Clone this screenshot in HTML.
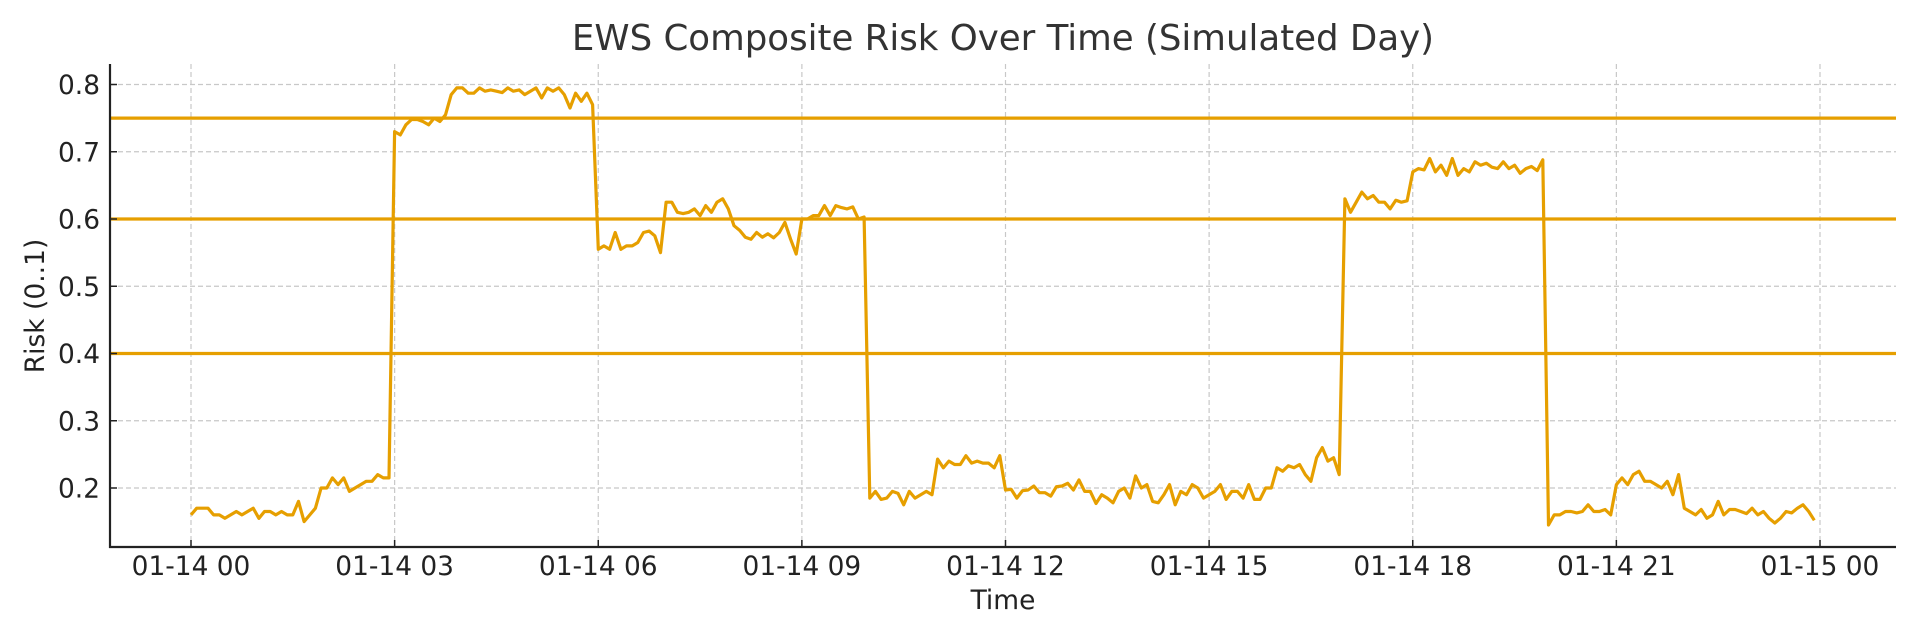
<!DOCTYPE html>
<html><head><meta charset="utf-8"><style>
html,body{margin:0;padding:0;background:#fff;}
svg{display:block;font-family:"DejaVu Sans","Liberation Sans",sans-serif;}
</style></head><body>
<svg id="chart" width="1920" height="640" viewBox="0 0 1920 640" xmlns="http://www.w3.org/2000/svg">
<rect width="1920" height="640" fill="#fff"/>
<text x="1003" y="50" text-anchor="middle" font-size="35.6" fill="#333">EWS Composite Risk Over Time (Simulated Day)</text>
<g id="grid"></g>
<g id="thresholds"></g>
<g id="series"></g>
<g id="axes"></g>
<text x="1003" y="609" text-anchor="middle" font-size="26.5" fill="#222">Time</text>
<text x="0" y="0" transform="translate(44,306) rotate(-90)" text-anchor="middle" font-size="26.5" fill="#222">Risk (0..1)</text>
</svg>
<script>
const xTickLabels = ["01-14 00","01-14 03","01-14 06","01-14 09","01-14 12","01-14 15","01-14 18","01-14 21","01-15 00"];
const yTicks = [0.2,0.3,0.4,0.5,0.6,0.7,0.8];
const yTickLabels = ["0.2","0.3","0.4","0.5","0.6","0.7","0.8"];
const thresholds = [0.4,0.6,0.75];
const intervalMinutes = 5;
const riskValues = [
0.16,0.17,0.17,0.17,0.16,0.16,0.155,0.16,0.165,0.16,0.165,0.17,
0.155,0.165,0.165,0.16,0.165,0.16,0.16,0.18,0.15,0.16,0.17,0.2,
0.2,0.215,0.205,0.215,0.195,0.2,0.205,0.21,0.21,0.22,0.215,0.215,
0.73,0.725,0.74,0.748,0.748,0.745,0.74,0.75,0.745,0.755,0.785,0.795,
0.795,0.787,0.787,0.795,0.79,0.792,0.79,0.788,0.795,0.79,0.792,0.785,
0.79,0.795,0.78,0.795,0.79,0.795,0.785,0.765,0.787,0.775,0.787,0.77,
0.555,0.56,0.555,0.58,0.555,0.56,0.56,0.565,0.58,0.582,0.575,0.55,
0.625,0.625,0.61,0.608,0.61,0.615,0.605,0.62,0.61,0.625,0.63,0.615,
0.59,0.583,0.573,0.57,0.58,0.573,0.578,0.572,0.58,0.595,0.57,0.548,
0.6,0.6,0.605,0.605,0.62,0.605,0.62,0.617,0.615,0.618,0.6,0.603,
0.185,0.195,0.183,0.185,0.195,0.192,0.175,0.195,0.185,0.19,0.195,0.19,
0.243,0.23,0.24,0.235,0.235,0.248,0.237,0.24,0.237,0.237,0.23,0.248,
0.197,0.198,0.185,0.196,0.197,0.203,0.193,0.193,0.188,0.202,0.203,0.207,
0.197,0.212,0.195,0.195,0.177,0.19,0.185,0.178,0.195,0.2,0.185,0.218,
0.2,0.205,0.18,0.178,0.19,0.205,0.175,0.195,0.19,0.205,0.2,0.185,
0.19,0.195,0.205,0.183,0.195,0.195,0.185,0.205,0.183,0.183,0.2,0.2,
0.23,0.225,0.233,0.23,0.235,0.22,0.21,0.245,0.26,0.24,0.245,0.22,
0.63,0.61,0.625,0.64,0.63,0.635,0.625,0.625,0.615,0.628,0.625,0.627,
0.67,0.675,0.673,0.69,0.67,0.68,0.665,0.69,0.665,0.675,0.67,0.685,
0.68,0.683,0.677,0.675,0.685,0.675,0.68,0.668,0.675,0.678,0.672,0.688,
0.145,0.16,0.16,0.165,0.165,0.163,0.165,0.175,0.165,0.165,0.168,0.16,
0.205,0.215,0.205,0.22,0.225,0.21,0.21,0.205,0.2,0.21,0.19,0.22,
0.17,0.165,0.16,0.168,0.155,0.16,0.18,0.16,0.168,0.168,0.165,0.162,
0.17,0.16,0.165,0.155,0.148,0.155,0.165,0.163,0.17,0.175,0.165,0.152
];
const NS = "http://www.w3.org/2000/svg";
const L = 110, R = 1896, T = 64, B = 547;
function xScale(min){ return 191 + min * (1820 - 191) / 1440; }
function yScale(v){ return 488 - (v - 0.2) * (488 - 84.5) / 0.6; }
function mk(tag, attrs, parent){ const e = document.createElementNS(NS, tag); for (const k in attrs) e.setAttribute(k, attrs[k]); parent.appendChild(e); return e; }
const grid = document.getElementById('grid'), axes = document.getElementById('axes');
xTickLabels.forEach((lab, i) => {
  const x = xScale(i * 180);
  const g = mk('line', {x1:x, x2:x, y1:T, y2:B, stroke:'#c8c8c8', 'stroke-width':1.2, 'stroke-dasharray':'5,3'}, grid);
  
  
  const t = mk('line', {x1:x, x2:x, y1:B, y2:B-7, stroke:'#222', 'stroke-width':1.5}, axes);
  
  
  const tx = mk('text', {x:x, y:575, 'text-anchor':'middle', 'font-size':26.4, fill:'#222'}, axes);
  tx.textContent = lab;
  
  
});
yTicks.forEach((v, i) => {
  const y = yScale(v);
  const g = mk('line', {x1:L, x2:R, y1:y, y2:y, stroke:'#c8c8c8', 'stroke-width':1.2, 'stroke-dasharray':'5,3'}, grid);
  
  
  const t = mk('line', {x1:L, x2:L+7, y1:y, y2:y, stroke:'#222', 'stroke-width':1.5}, axes);
  
  
  const tx = mk('text', {x:100, y:y+9.5, 'text-anchor':'end', 'font-size':26.4, fill:'#222'}, axes);
  tx.textContent = yTickLabels[i];
  
  
});
const th = document.getElementById('thresholds');
thresholds.forEach(v => {
  const y = yScale(v);
  const l = mk('line', {x1:L, x2:R, y1:y, y2:y, stroke:'#E69F00', 'stroke-width':3.2}, th);
  
  
});
const pts = riskValues.map((v, i) => xScale(i * intervalMinutes).toFixed(1) + ',' + yScale(v).toFixed(1)).join(' ');
const pl = mk('polyline', {points:pts, fill:'none', stroke:'#E69F00', 'stroke-width':3.2, 'stroke-linejoin':'round'}, document.getElementById('series'));


const sl = mk('line', {x1:L, x2:L, y1:T, y2:B+1, stroke:'#222', 'stroke-width':2.2}, axes);


const sb = mk('line', {x1:L-1, x2:R, y1:B, y2:B, stroke:'#222', 'stroke-width':2.2}, axes);


</script>
</body></html>
